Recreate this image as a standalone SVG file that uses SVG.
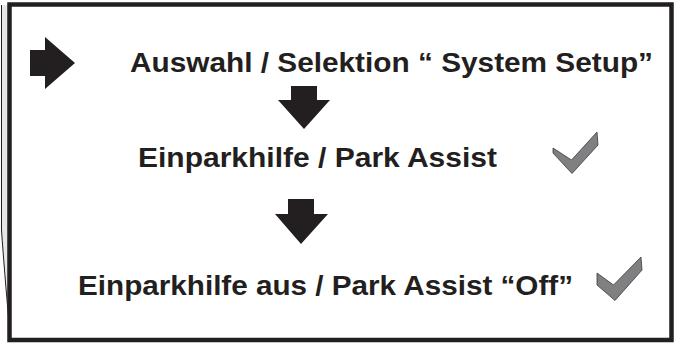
<svg xmlns="http://www.w3.org/2000/svg" width="676" height="348" viewBox="0 0 676 348">
  <defs>
    <style>
      .lbl { font-family: "Liberation Sans", Arial, Helvetica, sans-serif; font-weight: bold; font-size: 27px; fill: #231f20; }
      .arrow { fill: #231f20; }
      .check { fill: #808083; stroke: #3a3a3c; stroke-width: 0.8; stroke-linejoin: miter; }
    </style>
  </defs>
  <rect x="0" y="0" width="676" height="348" fill="#ffffff"/>
  <g id="page-curl">
    <path d="M1,5 L9,5 L9,322 C 6,290 3,258 1,232 Z" fill="#e6e7e8"/>
    <path d="M1.5,5 L1.5,230 C 3.5,258 6,290 9,322" fill="none" stroke="#231f20" stroke-width="1"/>
  </g>
  <g id="frame">
    <rect x="9.5" y="4.5" width="662" height="335.5" fill="none" stroke="#231f20" stroke-width="4.5"/>
  </g>
  <g id="connectors">
    <polygon class="arrow" points="30,50 45,50 45,37 75,63 45,89 45,76 30,76"/>
    <polygon class="arrow" points="291,86 317,86 317,100 330,100 304,129 278,100 291,100"/>
    <polygon class="arrow" points="288,199 314,199 314,214 328,214 301,244 275,214 288,214"/>
  </g>
  <g id="node-system-setup">
    <text class="lbl" x="130" y="72" textLength="523" lengthAdjust="spacingAndGlyphs">Auswahl / Selektion “ System Setup”</text>
  </g>
  <g id="node-park-assist">
    <text class="lbl" x="138" y="167" textLength="359" lengthAdjust="spacingAndGlyphs">Einparkhilfe / Park Assist</text>
    <polygon class="check" points="553,148 571.5,160 597,132 598,145 572,173.5 553,153"/>
  </g>
  <g id="node-park-assist-off">
    <text class="lbl" x="78" y="295" textLength="495" lengthAdjust="spacingAndGlyphs">Einparkhilfe aus / Park Assist “Off”</text>
    <polygon class="check" points="597,273 613.5,285 641,257 642,270 615,300.5 597,285"/>
  </g>
</svg>
